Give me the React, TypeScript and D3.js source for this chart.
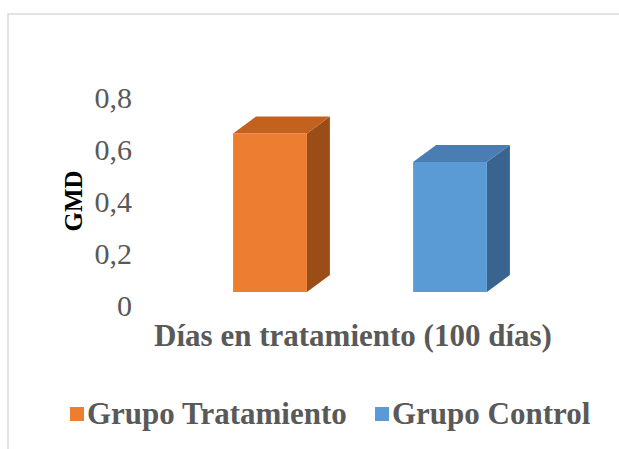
import React from "react";
import * as d3 from "d3";

const series = ["Grupo Tratamiento", "Grupo Control"];
const values = [0.61, 0.5];
const tickValues = [0, 0.2, 0.4, 0.6, 0.8];
const tickLabels = ["0", "0,2", "0,4", "0,6", "0,8"];
const frontColors = ["#ED7D31", "#5B9BD5"];
const topColors = ["#C3621F", "#4A7EB3"];
const sideColors = ["#9B4D18", "#3A6490"];
const categoryLabel = "Días en tratamiento (100 días)";
const yTitle = "GMD";

export default function App() {
  const W = 619;
  const H = 449;
  const x = d3.scaleBand<string>().domain(series).range([180, 540]).paddingInner(0.59).paddingOuter(0.295);
  const y = d3.scaleLinear().domain([0, 0.8]).range([292, 84]);
  const dx = 23;
  const dy = -17;
  const labelOffset = 13;
  const font = "'Liberation Serif', 'Times New Roman', serif";
  const textColor = "#595959";

  return (
    <svg width={W} height={H} style={{ position: "absolute", left: 0, top: 0 }}>
      <rect x={0} y={0} width={W} height={H} fill="#ffffff" />
      <rect x={8} y={14} width={W + 50} height={H + 50} fill="none" stroke="#d9d9d9" strokeWidth={1.5} />
      {tickValues.map((t, i) => (
        <text
          key={i}
          x={132}
          y={y(t) + labelOffset}
          textAnchor="end"
          dominantBaseline="central"
          fontFamily={font}
          fontSize={30}
          fill={textColor}
        >
          {tickLabels[i]}
        </text>
      ))}
      <text
        transform={`translate(${82},${201}) rotate(-90)`}
        textAnchor="middle"
        fontFamily={font}
        fontSize={25}
        fontWeight="bold"
        fill="#000000"
      >
        {yTitle}
      </text>
      {series.map((s, i) => {
        const x0 = x(s)!;
        const x1 = x0 + x.bandwidth();
        const yt = y(values[i]);
        const yb = y(0);
        const top = `M${x0},${yt} L${x0 + dx},${yt + dy} L${x1 + dx},${yt + dy} L${x1},${yt} Z`;
        const side = `M${x1},${yt} L${x1 + dx},${yt + dy} L${x1 + dx},${yb + dy} L${x1},${yb} Z`;
        return (
          <g key={s}>
            <path d={side} fill={sideColors[i]} />
            <path d={top} fill={topColors[i]} />
            <rect x={x0} y={yt} width={x1 - x0} height={yb - yt} fill={frontColors[i]} />
          </g>
        );
      })}
      <text
        x={353}
        y={346}
        textAnchor="middle"
        fontFamily={font}
        fontSize={31}
        fontWeight="bold"
        fill={textColor}
      >
        {categoryLabel}
      </text>
      {(() => {
        const items: JSX.Element[] = [];
        const starts = [70, 375];
        series.forEach((s, i) => {
          items.push(
            <g key={s}>
              <rect x={starts[i]} y={407} width={14} height={14} fill={frontColors[i]} />
              <text
                x={starts[i] + 17}
                y={424}
                fontFamily={font}
                fontSize={31}
                fontWeight="bold"
                fill={textColor}
              >
                {s}
              </text>
            </g>
          );
        });
        return items;
      })()}
    </svg>
  );
}
